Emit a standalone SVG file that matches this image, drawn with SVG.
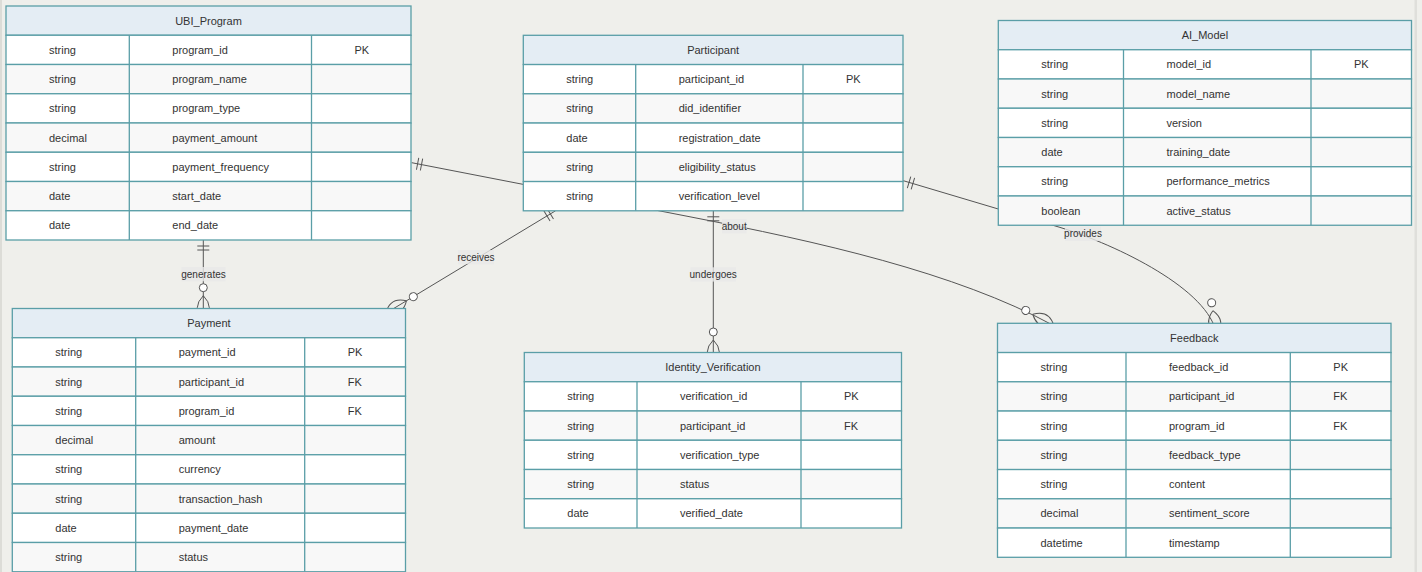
<svg xmlns="http://www.w3.org/2000/svg" width="1422" height="572" viewBox="0 0 1422 572">
  <style>
    .bg { fill: #efefeb; }
    .ent rect, .ent line { stroke: #5a9ea7; stroke-width: 1.3; }
    .ent .h { fill: #e4edf4; }
    .ent .a { fill: #ffffff; }
    .ent .b { fill: #f8f8f8; }
    text { font-family: "Liberation Sans", Arial, sans-serif; fill: #333333; }
    .t { font-size: 11px; }
    .ttl { font-size: 11px; text-anchor: middle; }
    .edge { fill: none; stroke: #555555; stroke-width: 1; }
    .lbg { fill: #e8e8e8; fill-opacity: 0.8; }
    .lt { font-size: 10px; text-anchor: middle; }
  </style>
  <defs>
    <marker id="oneStart" markerUnits="userSpaceOnUse" viewBox="0 0 18 18" markerWidth="12" markerHeight="12" refX="0" refY="9" orient="auto" overflow="visible">
      <path d="M9,0 L9,18 M15,0 L15,18" fill="none" stroke="#555555" stroke-width="1.5"/>
    </marker>
    <marker id="zeroManyEnd" markerUnits="userSpaceOnUse" viewBox="0 0 57 36" markerWidth="38" markerHeight="24" refX="57" refY="18" orient="auto" overflow="visible">
      <circle cx="9" cy="18" r="6" fill="#ffffff" stroke="#555555" stroke-width="1.5"/>
      <path d="M21,18 Q39,0 57,18 Q39,36 21,18" fill="none" stroke="#555555" stroke-width="1.5"/>
    </marker>
  </defs>

  <rect class="bg" x="0" y="0" width="1422" height="572"/>
  <rect x="0" y="0" width="2" height="572" fill="#dcdcd7"/>
  <rect x="1414.5" y="0" width="2.5" height="572" fill="#dfdfdb"/>

  <!-- relationships -->
  <g id="connectors">
    <path class="edge" d="M203.3,240 L203.3,319.7" marker-start="url(#oneStart)" marker-end="url(#zeroManyEnd)"/>
    <path class="edge" d="M555.5,210.8 L385.9,313.2" marker-start="url(#oneStart)" marker-end="url(#zeroManyEnd)"/>
    <path class="edge" d="M713.3,210.8 L713.3,364" marker-start="url(#oneStart)" marker-end="url(#zeroManyEnd)"/>
    <path class="edge" d="M411.7,162.7 L690,216.8 C817.6,241.7 955,272 1053.9,325.7" marker-start="url(#oneStart)" marker-end="url(#zeroManyEnd)"/>
    <path class="edge" d="M903.3,180.7 L1060,227.4 C1117.5,245.2 1209.7,289.8 1216.5,334.4" marker-start="url(#oneStart)" marker-end="url(#zeroManyEnd)"/>

    <rect class="lbg" x="181.5" y="267" width="44" height="14.3"/>
    <text class="lt" x="203.5" y="277.6">generates</text>
    <rect class="lbg" x="458" y="250" width="36" height="14.3"/>
    <text class="lt" x="476" y="260.6">receives</text>
    <rect class="lbg" x="690.5" y="267.3" width="45.5" height="14.3"/>
    <text class="lt" x="713.2" y="277.9">undergoes</text>
    <rect class="lbg" x="722" y="219" width="24.5" height="14.3"/>
    <text class="lt" x="734.2" y="229.6">about</text>
    <rect class="lbg" x="1065" y="226.7" width="36" height="14.3"/>
    <text class="lt" x="1083" y="237.3">provides</text>
  </g>

  <!-- UBI_Program -->
  <g id="UBI_Program" class="ent">
    <rect class="h" x="6" y="6" width="405" height="29.25"/>
    <rect class="a" x="6" y="35.25" width="405" height="29.25"/>
    <rect class="b" x="6" y="64.5" width="405" height="29.25"/>
    <rect class="a" x="6" y="93.75" width="405" height="29.25"/>
    <rect class="b" x="6" y="123" width="405" height="29.25"/>
    <rect class="a" x="6" y="152.25" width="405" height="29.25"/>
    <rect class="b" x="6" y="181.5" width="405" height="29.25"/>
    <rect class="a" x="6" y="210.75" width="405" height="29.25"/>
    <line x1="129.3" y1="35.25" x2="129.3" y2="240"/>
    <line x1="311.5" y1="35.25" x2="311.5" y2="240"/>
    <text class="ttl" x="208.5" y="24.6">UBI_Program</text>
    <text class="t" x="49" y="53.9">string</text><text class="t" x="172.3" y="53.9">program_id</text><text class="t" x="354.5" y="53.9">PK</text>
    <text class="t" x="49" y="83.1">string</text><text class="t" x="172.3" y="83.1">program_name</text>
    <text class="t" x="49" y="112.4">string</text><text class="t" x="172.3" y="112.4">program_type</text>
    <text class="t" x="49" y="141.6">decimal</text><text class="t" x="172.3" y="141.6">payment_amount</text>
    <text class="t" x="49" y="170.9">string</text><text class="t" x="172.3" y="170.9">payment_frequency</text>
    <text class="t" x="49" y="200.1">date</text><text class="t" x="172.3" y="200.1">start_date</text>
    <text class="t" x="49" y="229.4">date</text><text class="t" x="172.3" y="229.4">end_date</text>
  </g>

  <!-- Participant -->
  <g id="Participant" class="ent">
    <rect class="h" x="523.3" y="35.3" width="379.7" height="29.25"/>
    <rect class="a" x="523.3" y="64.55" width="379.7" height="29.25"/>
    <rect class="b" x="523.3" y="93.8" width="379.7" height="29.25"/>
    <rect class="a" x="523.3" y="123.05" width="379.7" height="29.25"/>
    <rect class="b" x="523.3" y="152.3" width="379.7" height="29.25"/>
    <rect class="a" x="523.3" y="181.55" width="379.7" height="29.25"/>
    <line x1="635.7" y1="64.55" x2="635.7" y2="210.8"/>
    <line x1="803" y1="64.55" x2="803" y2="210.8"/>
    <text class="ttl" x="713.15" y="53.9">Participant</text>
    <text class="t" x="566.3" y="83.15">string</text><text class="t" x="678.7" y="83.15">participant_id</text><text class="t" x="846" y="83.15">PK</text>
    <text class="t" x="566.3" y="112.4">string</text><text class="t" x="678.7" y="112.4">did_identifier</text>
    <text class="t" x="566.3" y="141.65">date</text><text class="t" x="678.7" y="141.65">registration_date</text>
    <text class="t" x="566.3" y="170.9">string</text><text class="t" x="678.7" y="170.9">eligibility_status</text>
    <text class="t" x="566.3" y="200.15">string</text><text class="t" x="678.7" y="200.15">verification_level</text>
  </g>

  <!-- AI_Model -->
  <g id="AI_Model" class="ent">
    <rect class="h" x="998.3" y="20.5" width="413.2" height="29.25"/>
    <rect class="a" x="998.3" y="49.75" width="413.2" height="29.25"/>
    <rect class="b" x="998.3" y="79" width="413.2" height="29.25"/>
    <rect class="a" x="998.3" y="108.25" width="413.2" height="29.25"/>
    <rect class="b" x="998.3" y="137.5" width="413.2" height="29.25"/>
    <rect class="a" x="998.3" y="166.75" width="413.2" height="29.25"/>
    <rect class="b" x="998.3" y="196" width="413.2" height="29.25"/>
    <line x1="1123.5" y1="49.75" x2="1123.5" y2="225.25"/>
    <line x1="1311" y1="49.75" x2="1311" y2="225.25"/>
    <text class="ttl" x="1204.9" y="39.1">AI_Model</text>
    <text class="t" x="1041.3" y="68.35">string</text><text class="t" x="1166.5" y="68.35">model_id</text><text class="t" x="1354" y="68.35">PK</text>
    <text class="t" x="1041.3" y="97.6">string</text><text class="t" x="1166.5" y="97.6">model_name</text>
    <text class="t" x="1041.3" y="126.85">string</text><text class="t" x="1166.5" y="126.85">version</text>
    <text class="t" x="1041.3" y="156.1">date</text><text class="t" x="1166.5" y="156.1">training_date</text>
    <text class="t" x="1041.3" y="185.35">string</text><text class="t" x="1166.5" y="185.35">performance_metrics</text>
    <text class="t" x="1041.3" y="214.6">boolean</text><text class="t" x="1166.5" y="214.6">active_status</text>
  </g>

  <!-- Payment -->
  <g id="Payment" class="ent">
    <rect class="h" x="12.3" y="308.5" width="393.2" height="29.25"/>
    <rect class="a" x="12.3" y="337.75" width="393.2" height="29.25"/>
    <rect class="b" x="12.3" y="367" width="393.2" height="29.25"/>
    <rect class="a" x="12.3" y="396.25" width="393.2" height="29.25"/>
    <rect class="b" x="12.3" y="425.5" width="393.2" height="29.25"/>
    <rect class="a" x="12.3" y="454.75" width="393.2" height="29.25"/>
    <rect class="b" x="12.3" y="484" width="393.2" height="29.25"/>
    <rect class="a" x="12.3" y="513.25" width="393.2" height="29.25"/>
    <rect class="b" x="12.3" y="542.5" width="393.2" height="29.25"/>
    <line x1="135.7" y1="337.75" x2="135.7" y2="571.75"/>
    <line x1="304.7" y1="337.75" x2="304.7" y2="571.75"/>
    <text class="ttl" x="208.9" y="327.1">Payment</text>
    <text class="t" x="55.3" y="356.35">string</text><text class="t" x="178.7" y="356.35">payment_id</text><text class="t" x="347.7" y="356.35">PK</text>
    <text class="t" x="55.3" y="385.6">string</text><text class="t" x="178.7" y="385.6">participant_id</text><text class="t" x="347.7" y="385.6">FK</text>
    <text class="t" x="55.3" y="414.85">string</text><text class="t" x="178.7" y="414.85">program_id</text><text class="t" x="347.7" y="414.85">FK</text>
    <text class="t" x="55.3" y="444.1">decimal</text><text class="t" x="178.7" y="444.1">amount</text>
    <text class="t" x="55.3" y="473.35">string</text><text class="t" x="178.7" y="473.35">currency</text>
    <text class="t" x="55.3" y="502.6">string</text><text class="t" x="178.7" y="502.6">transaction_hash</text>
    <text class="t" x="55.3" y="531.85">date</text><text class="t" x="178.7" y="531.85">payment_date</text>
    <text class="t" x="55.3" y="561.1">string</text><text class="t" x="178.7" y="561.1">status</text>
  </g>

  <!-- Identity_Verification -->
  <g id="Identity_Verification" class="ent">
    <rect class="h" x="524.3" y="352.5" width="377.2" height="29.25"/>
    <rect class="a" x="524.3" y="381.75" width="377.2" height="29.25"/>
    <rect class="b" x="524.3" y="411" width="377.2" height="29.25"/>
    <rect class="a" x="524.3" y="440.25" width="377.2" height="29.25"/>
    <rect class="b" x="524.3" y="469.5" width="377.2" height="29.25"/>
    <rect class="a" x="524.3" y="498.75" width="377.2" height="29.25"/>
    <line x1="637" y1="381.75" x2="637" y2="528"/>
    <line x1="801" y1="381.75" x2="801" y2="528"/>
    <text class="ttl" x="712.9" y="371.1">Identity_Verification</text>
    <text class="t" x="567.3" y="400.35">string</text><text class="t" x="680" y="400.35">verification_id</text><text class="t" x="844" y="400.35">PK</text>
    <text class="t" x="567.3" y="429.6">string</text><text class="t" x="680" y="429.6">participant_id</text><text class="t" x="844" y="429.6">FK</text>
    <text class="t" x="567.3" y="458.85">string</text><text class="t" x="680" y="458.85">verification_type</text>
    <text class="t" x="567.3" y="488.1">string</text><text class="t" x="680" y="488.1">status</text>
    <text class="t" x="567.3" y="517.35">date</text><text class="t" x="680" y="517.35">verified_date</text>
  </g>

  <!-- Feedback -->
  <g id="Feedback" class="ent">
    <rect class="h" x="997.5" y="323.3" width="393.5" height="29.25"/>
    <rect class="a" x="997.5" y="352.55" width="393.5" height="29.25"/>
    <rect class="b" x="997.5" y="381.8" width="393.5" height="29.25"/>
    <rect class="a" x="997.5" y="411.05" width="393.5" height="29.25"/>
    <rect class="b" x="997.5" y="440.3" width="393.5" height="29.25"/>
    <rect class="a" x="997.5" y="469.55" width="393.5" height="29.25"/>
    <rect class="b" x="997.5" y="498.8" width="393.5" height="29.25"/>
    <rect class="a" x="997.5" y="528.05" width="393.5" height="29.25"/>
    <line x1="1126" y1="352.55" x2="1126" y2="557.3"/>
    <line x1="1290.3" y1="352.55" x2="1290.3" y2="557.3"/>
    <text class="ttl" x="1194.25" y="341.9">Feedback</text>
    <text class="t" x="1040.5" y="371.15">string</text><text class="t" x="1169" y="371.15">feedback_id</text><text class="t" x="1333.3" y="371.15">PK</text>
    <text class="t" x="1040.5" y="400.4">string</text><text class="t" x="1169" y="400.4">participant_id</text><text class="t" x="1333.3" y="400.4">FK</text>
    <text class="t" x="1040.5" y="429.65">string</text><text class="t" x="1169" y="429.65">program_id</text><text class="t" x="1333.3" y="429.65">FK</text>
    <text class="t" x="1040.5" y="458.9">string</text><text class="t" x="1169" y="458.9">feedback_type</text>
    <text class="t" x="1040.5" y="488.15">string</text><text class="t" x="1169" y="488.15">content</text>
    <text class="t" x="1040.5" y="517.4">decimal</text><text class="t" x="1169" y="517.4">sentiment_score</text>
    <text class="t" x="1040.5" y="546.65">datetime</text><text class="t" x="1169" y="546.65">timestamp</text>
  </g>
</svg>
